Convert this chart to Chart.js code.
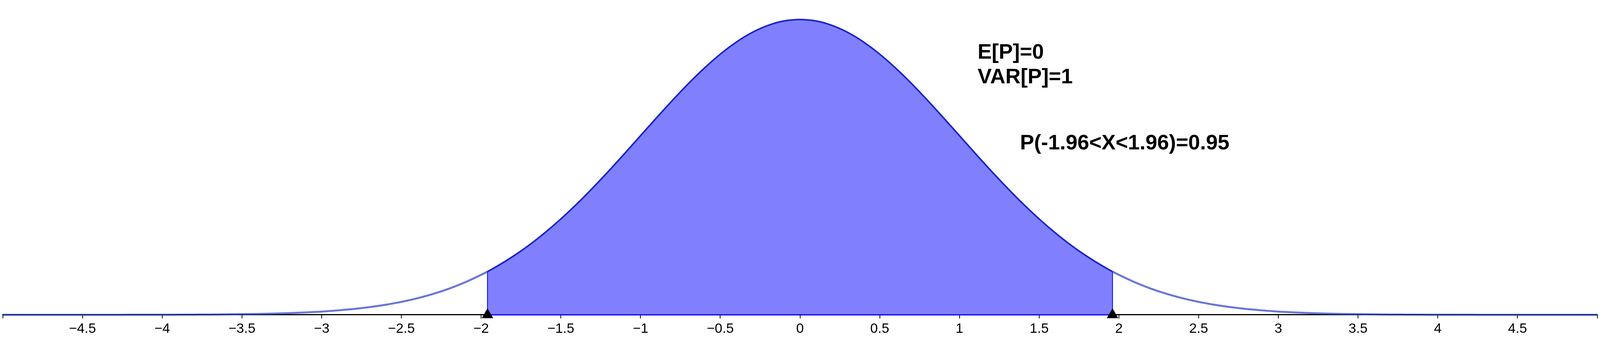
<!DOCTYPE html>
<html>
<head>
<meta charset="utf-8">
<script src="https://cdn.jsdelivr.net/npm/chart.js@4/dist/chart.umd.min.js"></script>
<style>
  html, body { margin: 0; padding: 0; background: #fff; overflow: hidden; }
  #wrap { width: 100vw; height: 100vh; position: relative; }
</style>
</head>
<body>
<div id="wrap"><canvas id="normChart"></canvas></div>
<script>
// standard normal density (0.1 steps + the ±1.96 bounds)
const xs = [
  -5, -4.9, -4.8, -4.7, -4.6, -4.5, -4.4, -4.3, -4.2, -4.1,
  -4, -3.9, -3.8, -3.7, -3.6, -3.5, -3.4, -3.3, -3.2, -3.1,
  -3, -2.9, -2.8, -2.7, -2.6, -2.5, -2.4, -2.3, -2.2, -2.1,
  -2, -1.96, -1.9, -1.8, -1.7, -1.6, -1.5, -1.4, -1.3, -1.2, -1.1,
  -1, -0.9, -0.8, -0.7, -0.6, -0.5, -0.4, -0.3, -0.2, -0.1,
  0, 0.1, 0.2, 0.3, 0.4, 0.5, 0.6, 0.7, 0.8, 0.9,
  1, 1.1, 1.2, 1.3, 1.4, 1.5, 1.6, 1.7, 1.8, 1.9, 1.96,
  2, 2.1, 2.2, 2.3, 2.4, 2.5, 2.6, 2.7, 2.8, 2.9,
  3, 3.1, 3.2, 3.3, 3.4, 3.5, 3.6, 3.7, 3.8, 3.9,
  4, 4.1, 4.2, 4.3, 4.4, 4.5, 4.6, 4.7, 4.8, 4.9, 5
];
const ys = [
  0, 0, 0, 0, 0, 0, 0, 0, 0.0001, 0.0001,
  0.0001, 0.0002, 0.0003, 0.0004, 0.0006, 0.0009, 0.0012, 0.0017, 0.0024, 0.0033,
  0.0044, 0.006, 0.0079, 0.0104, 0.0136, 0.0175, 0.0224, 0.0283, 0.0355, 0.044,
  0.054, 0.0584, 0.0656, 0.079, 0.094, 0.1109, 0.1295, 0.1497, 0.1714, 0.1942, 0.2179,
  0.242, 0.2661, 0.2897, 0.3123, 0.3332, 0.3521, 0.3683, 0.3814, 0.391, 0.397,
  0.3989, 0.397, 0.391, 0.3814, 0.3683, 0.3521, 0.3332, 0.3123, 0.2897, 0.2661,
  0.242, 0.2179, 0.1942, 0.1714, 0.1497, 0.1295, 0.1109, 0.094, 0.079, 0.0656, 0.0584,
  0.054, 0.044, 0.0355, 0.0283, 0.0224, 0.0175, 0.0136, 0.0104, 0.0079, 0.006,
  0.0044, 0.0033, 0.0024, 0.0017, 0.0012, 0.0009, 0.0006, 0.0004, 0.0003, 0.0002,
  0.0001, 0.0001, 0.0001, 0, 0, 0, 0, 0, 0, 0, 0
];
const bounds = [-1.96, 1.96];

const tickValues = [-5, -4.5, -4, -3.5, -3, -2.5, -2, -1.5, -1, -0.5, 0,
                    0.5, 1, 1.5, 2, 2.5, 3, 3.5, 4, 4.5, 5];
const tickLabels = ['', '\u22124.5', '\u22124', '\u22123.5', '\u22123', '\u22122.5', '\u22122',
                    '\u22121.5', '\u22121', '\u22120.5', '0', '0.5', '1', '1.5', '2', '2.5',
                    '3', '3.5', '4', '4.5', ''];

const notes = ['E[P]=0', 'VAR[P]=1', 'P(-1.96<X<1.96)=0.95'];
// where the notes sit, in axis units (left edge, baseline)
const notePos = [[1.114, 0.346], [1.114, 0.3127], [1.38, 0.2235]];

const X_MIN = -5, X_MAX = 5, Y_MIN = -0.0502, Y_MAX = 0.4253;

const curvePts = xs.map((x, i) => ({ x: x, y: ys[i] }));
const shadePts = curvePts.filter((p) => p.x >= bounds[0] && p.x <= bounds[1]);
const boundTop = bounds.map((b) => ys[xs.indexOf(b)]);

const inside = (ctx) =>
  ctx.p0.parsed.x >= bounds[0] && ctx.p1.parsed.x <= bounds[1];

const notesPlugin = {
  id: 'notes',
  afterDatasetsDraw(chart) {
    const c = chart.ctx;
    const sx = chart.scales.x, sy = chart.scales.y;
    c.save();
    c.fillStyle = '#000';
    c.font = 'bold 54px "Liberation Sans", Arial, Helvetica, sans-serif';
    c.textAlign = 'left';
    c.textBaseline = 'alphabetic';
    notes.forEach((t, i) => {
      c.fillText(t, sx.getPixelForValue(notePos[i][0]), sy.getPixelForValue(notePos[i][1]));
    });
    c.restore();
  }
};

// chart.js paints the first dataset last (on top), so the list runs top -> bottom
new Chart(document.getElementById('normChart'), {
  type: 'line',
  data: {
    datasets: [
      {
        label: 'markers',
        type: 'scatter',
        data: bounds.map((b) => ({ x: b, y: 0 })),
        pointStyle: 'triangle',
        pointRadius: 17,
        pointBackgroundColor: '#000',
        pointBorderColor: '#000',
        pointBorderWidth: 0,
        showLine: false,
        clip: false,
      },
      {
        label: 'density',
        data: curvePts,
        borderColor: 'rgba(40,60,200,0.7)',
        borderWidth: 5,
        pointRadius: 0,
        fill: false,
        cubicInterpolationMode: 'monotone',
        segment: {
          borderColor: (ctx) => (inside(ctx) ? 'rgba(0,0,0,0)' : undefined),
        },
      },
      {
        label: 'base',
        data: [{ x: bounds[0], y: 0 }, { x: bounds[1], y: 0 }],
        borderColor: '#0000ff',
        borderWidth: 3,
        pointRadius: 0,
        fill: false,
      },
      {
        label: 'upper bound',
        data: [{ x: bounds[1], y: 0 }, { x: bounds[1], y: boundTop[1] }],
        borderColor: '#0000ff',
        borderWidth: 2,
        pointRadius: 0,
        fill: false,
      },
      {
        label: 'lower bound',
        data: [{ x: bounds[0], y: 0 }, { x: bounds[0], y: boundTop[0] }],
        borderColor: '#0000ff',
        borderWidth: 2,
        pointRadius: 0,
        fill: false,
      },
      {
        label: 'area',
        data: shadePts,
        borderColor: 'rgb(25,35,200)',
        borderWidth: 4,
        backgroundColor: 'rgb(128,128,255)',
        fill: 'origin',
        pointRadius: 0,
        cubicInterpolationMode: 'monotone',
      },
    ],
  },
  options: {
    responsive: true,
    maintainAspectRatio: false,
    animation: false,
    layout: { padding: 0, autoPadding: false },
    plugins: {
      legend: { display: false },
      tooltip: { enabled: false },
    },
    scales: {
      x: {
        type: 'linear',
        min: X_MIN,
        max: X_MAX,
        position: { y: 0 },
        afterBuildTicks: (scale) => {
          scale.ticks = tickValues.map((v) => ({ value: v }));
        },
        afterFit: (scale) => {
          scale.height = 0;
        },
        ticks: {
          autoSkip: false,
          maxRotation: 0,
          padding: 7,
          color: '#000',
          font: { family: '"Liberation Sans", Arial, Helvetica, sans-serif', size: 35 },
          callback: (v, i) => tickLabels[i],
        },
        grid: {
          drawOnChartArea: false,
          drawTicks: true,
          tickLength: 8,
          tickWidth: 2,
          tickColor: '#000',
        },
        border: { display: true, color: '#000', width: 3 },
      },
      y: {
        display: false,
        min: Y_MIN,
        max: Y_MAX,
      },
    },
  },
  plugins: [notesPlugin],
});
</script>
</body>
</html>
